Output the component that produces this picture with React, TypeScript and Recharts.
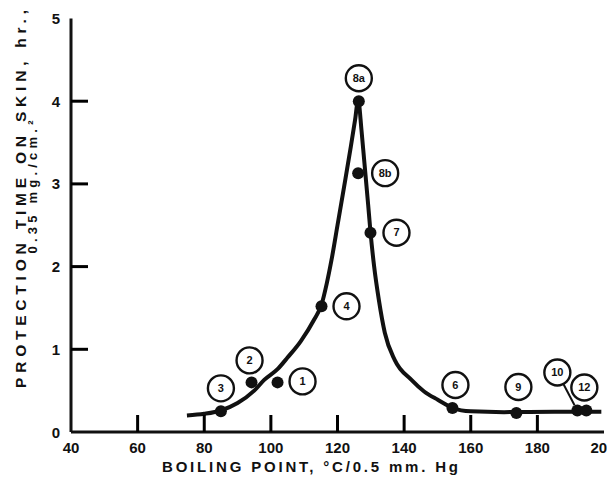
import React from 'react';
import { ComposedChart, Line, Scatter, XAxis, YAxis } from 'recharts';

const xTicks = [40, 60, 80, 100, 120, 140, 160, 180, 200];
const yTicks = [0, 1, 2, 3, 4, 5];

const curveBoilingPoints = [74.8, 80, 85, 90, 95, 98, 102, 105, 109, 113, 115.2, 116.8, 118.2, 120, 122, 124, 125.3, 126.2, 127.2, 128, 129.2, 129.9, 131, 132.4, 134.2, 137.2, 142.2, 146, 150.1, 154.7, 160, 170, 185, 199.2];
const curveProtection = [0.2, 0.22, 0.26, 0.35, 0.5, 0.63, 0.76, 0.9, 1.1, 1.36, 1.54, 1.8, 2.08, 2.5, 2.97, 3.45, 3.78, 4.02, 3.65, 3.29, 2.75, 2.42, 2.0, 1.6, 1.2, 0.87, 0.63, 0.49, 0.39, 0.29, 0.25, 0.24, 0.245, 0.245];

const compoundIds = ['1', '2', '3', '4', '6', '7', '8a', '8b', '9', '10', '12'];
const compoundBoilingPoints = [102, 94.2, 85, 115.2, 154.5, 129.9, 126.4, 126.2, 173.7, 192, 194.7];
const compoundProtection = [0.6, 0.6, 0.25, 1.52, 0.29, 2.41, 4.0, 3.13, 0.23, 0.26, 0.26];

// label bubble offsets in px (style)
const labelOffsets: Record<string, [number, number, boolean?]> = {
  '1': [25, -1],
  '2': [-2, -22],
  '3': [0, -23],
  '4': [25, 0],
  '6': [3, -23],
  '7': [26, 0],
  '8a': [0, -23],
  '8b': [27, 0],
  '9': [2, -26],
  '10': [-20, -38, true],
  '12': [-2, -23],
};

const curveData = curveBoilingPoints.map((x, i) => ({ x, y: curveProtection[i] }));
const pointData = compoundBoilingPoints.map((x, i) => ({ x, y: compoundProtection[i], id: compoundIds[i] }));

const INK = '#111';
const MARK = '#000';
const FONT = '"Liberation Sans", Arial, Helvetica, sans-serif';
const TICK_LEN = 17;
const TICK_W = 3;

const XTick = (props: any) => {
  const { x, y, payload } = props;
  const v = payload.value;
  const showMark = v !== 40 && v !== 200;
  return (
    <g>
      {showMark && <rect x={x - TICK_W / 2} y={y - TICK_LEN} width={TICK_W} height={TICK_LEN} fill={MARK} />}
      <text x={x} y={y + 21} textAnchor="middle" fontFamily={FONT} fontWeight="bold" fontSize={15} fill={INK}>
        {v}
      </text>
    </g>
  );
};

const YTick = (props: any) => {
  const { x, y, payload } = props;
  const v = payload.value;
  const showMark = v !== 0 && v !== 5;
  return (
    <g>
      {showMark && <rect x={x} y={y - TICK_W / 2} width={TICK_LEN} height={TICK_W} fill={MARK} />}
      <text x={x - 11} y={y + 5.5} textAnchor="end" fontFamily={FONT} fontWeight="bold" fontSize={15} fill={INK}>
        {v}
      </text>
    </g>
  );
};

const PointShape = (props: any) => {
  const { cx, cy, payload } = props;
  const off = labelOffsets[payload.id] || [0, -23];
  const lx = cx + off[0];
  const ly = cy + off[1];
  let leader = null;
  if (off[2]) {
    const dx = cx - lx;
    const dy = cy - ly;
    const len = Math.sqrt(dx * dx + dy * dy);
    const ux = dx / len;
    const uy = dy / len;
    leader = (
      <line x1={lx + ux * 13} y1={ly + uy * 13} x2={cx - ux * 6} y2={cy - uy * 6} stroke={INK} strokeWidth={2} />
    );
  }
  return (
    <g>
      <circle cx={cx} cy={cy} r={6} fill={INK} />
      {leader}
      <circle cx={lx} cy={ly} r={13} fill="#fff" stroke={INK} strokeWidth={2.4} />
      <text x={lx} y={ly + 3.8} textAnchor="middle" fontFamily={FONT} fontWeight="bold" fontSize={11} fill={INK}>
        {payload.id}
      </text>
    </g>
  );
};

export default function App() {
  return (
    <div style={{ width: 607, height: 469, background: '#fff' }}>
      <ComposedChart width={607} height={469} margin={{ top: 10.5, right: 11, bottom: 5, left: 23 }}>
        <XAxis
          dataKey="x"
          type="number"
          domain={[40, 200]}
          ticks={xTicks}
          height={40}
          tickSize={0}
          tickMargin={0}
          tickLine={false}
          axisLine={{ stroke: INK, strokeWidth: 3 }}
          tick={<XTick />}
        />
        <YAxis
          dataKey="y"
          type="number"
          domain={[0, 5]}
          ticks={yTicks}
          width={40}
          tickSize={0}
          tickMargin={0}
          tickLine={false}
          axisLine={{ stroke: INK, strokeWidth: 3 }}
          tick={<YTick />}
        />
        <Line
          data={curveData}
          dataKey="y"
          type="monotone"
          stroke={INK}
          strokeWidth={4}
          dot={false}
          activeDot={false}
          isAnimationActive={false}
        />
        <Scatter data={pointData} dataKey="y" shape={<PointShape />} isAnimationActive={false} />
        <text x={302} y={464} textAnchor="middle" fontFamily={FONT} fontWeight="bold" fontSize={15} fill={INK} textLength={296} lengthAdjust="spacing">
          BOILING POINT, °C/0.5 mm. Hg
        </text>
        <text transform="translate(18, 191) rotate(-90)" textAnchor="middle" fontFamily={FONT} fontWeight="bold" fontSize={15.5} fill={INK} textLength={378} lengthAdjust="spacing">
          PROTECTION TIME ON SKIN, hr.,
        </text>
        <text transform="translate(29, 179) rotate(-90)" textAnchor="middle" fontFamily={FONT} fontWeight="bold" fontSize={13} fill={INK} textLength={133} lengthAdjust="spacing">
          0.35 mg./cm.²
        </text>
      </ComposedChart>
    </div>
  );
}
